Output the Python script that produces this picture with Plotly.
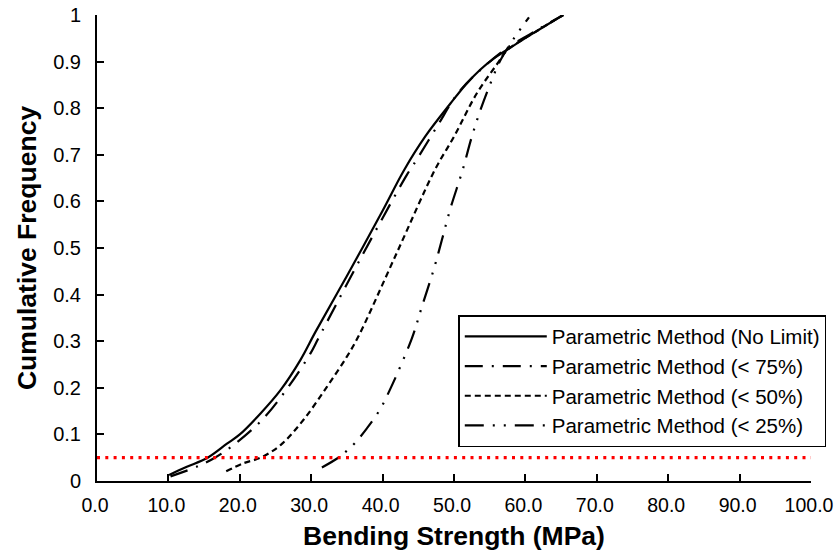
import plotly.graph_objects as go

# Data
x_nolimit = [10.1, 12.5, 15.5, 18.2, 20.0, 22.9, 25.7, 28.5, 30.6, 35.0, 40.0, 43.0, 46.0, 49.5, 51.6, 53.7, 55.6, 57.5, 61.0, 65.3]
y_nolimit = [0.013, 0.03, 0.05, 0.08, 0.10, 0.145, 0.195, 0.26, 0.32, 0.44, 0.58, 0.667, 0.74, 0.81, 0.85, 0.883, 0.907, 0.926, 0.96, 1.0]

x_75 = [10.3, 14.2, 16.5, 19.1, 23.3, 26.8, 29.9, 31.0, 37.0, 43.4, 44.3, 47.6, 50.7, 54.2, 57.5, 61.0, 65.3]
y_75 = [0.01, 0.032, 0.05, 0.077, 0.134, 0.202, 0.274, 0.306, 0.48, 0.657, 0.678, 0.76, 0.835, 0.889, 0.93, 0.962, 1.0]

x_50 = [18.1, 20.5, 22.9, 25.7, 28.9, 32.2, 35.0, 36.6, 42.0, 47.3, 50.0, 53.2, 56.1, 57.5, 61.0, 65.3]
y_50 = [0.021, 0.038, 0.05, 0.077, 0.131, 0.202, 0.267, 0.31, 0.49, 0.667, 0.739, 0.832, 0.896, 0.925, 0.96, 1.0]

x_25 = [31.5, 33.8, 35.0, 36.1, 37.8, 39.5, 41.0, 44.1, 45.5, 47.2, 48.3, 49.5, 51.2, 52.5, 53.7, 55.1, 56.5, 58.4, 60.5]
y_25 = [0.029, 0.05, 0.065, 0.081, 0.113, 0.15, 0.195, 0.306, 0.374, 0.456, 0.517, 0.585, 0.667, 0.739, 0.796, 0.853, 0.903, 0.95, 0.995]

ref_x = [0, 100]
ref_y = [0.05, 0.05]

x_ticks = [0, 10, 20, 30, 40, 50, 60, 70, 80, 90, 100]

names = ["Parametric Method (No Limit)", "Parametric Method (< 75%)",
         "Parametric Method (< 50%)", "Parametric Method (< 25%)"]

FONT = "Liberation Sans, Arial, sans-serif"

fig = go.Figure()
fig.add_trace(go.Scatter(x=x_nolimit, y=y_nolimit, mode="lines", name=names[0],
                         line=dict(color="black", width=2.2, shape="spline")))
fig.add_trace(go.Scatter(x=x_75, y=y_75, mode="lines", name=names[1],
                         line=dict(color="black", width=2.2, shape="spline", dash="18px,9px,2px,9px")))
fig.add_trace(go.Scatter(x=x_50, y=y_50, mode="lines", name=names[2],
                         line=dict(color="black", width=2.2, shape="spline", dash="6px,4px")))
fig.add_trace(go.Scatter(x=x_25, y=y_25, mode="lines", name=names[3],
                         line=dict(color="black", width=2.2, shape="spline", dash="19px,9px,2px,9px,2px,9px")))
fig.add_trace(go.Scatter(x=ref_x, y=ref_y, mode="lines", showlegend=False,
                         line=dict(color="#ff0000", width=3.2, dash="3px,5.3px")))

fig.update_layout(
    width=834, height=556,
    margin=dict(l=96.5, r=23, t=15, b=75, autoexpand=False),
    paper_bgcolor="white", plot_bgcolor="white",
    font=dict(family=FONT, size=20, color="black"),
    showlegend=True,
    legend=dict(x=0.506, y=0.356, xanchor="left", yanchor="top",
                bgcolor="white", bordercolor="black", borderwidth=1.5,
                font=dict(size=20.5), itemwidth=82, tracegroupgap=0),
    xaxis=dict(range=[0, 100], tickvals=x_ticks,
               tickformat=".1f", ticks="inside", ticklen=7, tickwidth=1.5, tickcolor="black",
               tickfont=dict(size=19.5), ticklabelshift=-2,
               ticklabelstandoff=6, ticklabeloverflow="allow",
               showline=True, linecolor="black", linewidth=2, showgrid=False, zeroline=False,
               title=dict(text="<b>Bending Strength (MPa)</b>", font=dict(size=26.5), standoff=11)),
    yaxis=dict(range=[0, 1], dtick=0.1, ticks="inside", ticklen=7, tickwidth=1.5, tickcolor="black",
               ticklabelstandoff=10, ticklabeloverflow="allow",
               showline=True, linecolor="black", linewidth=2, showgrid=False, zeroline=False,
               title=dict(text="<b>Cumulative Frequency</b>", font=dict(size=26.5), standoff=9)),
)

fig.write_html("out.html", config={"displayModeBar": False},
               post_script="document.body.style.margin='0';")
